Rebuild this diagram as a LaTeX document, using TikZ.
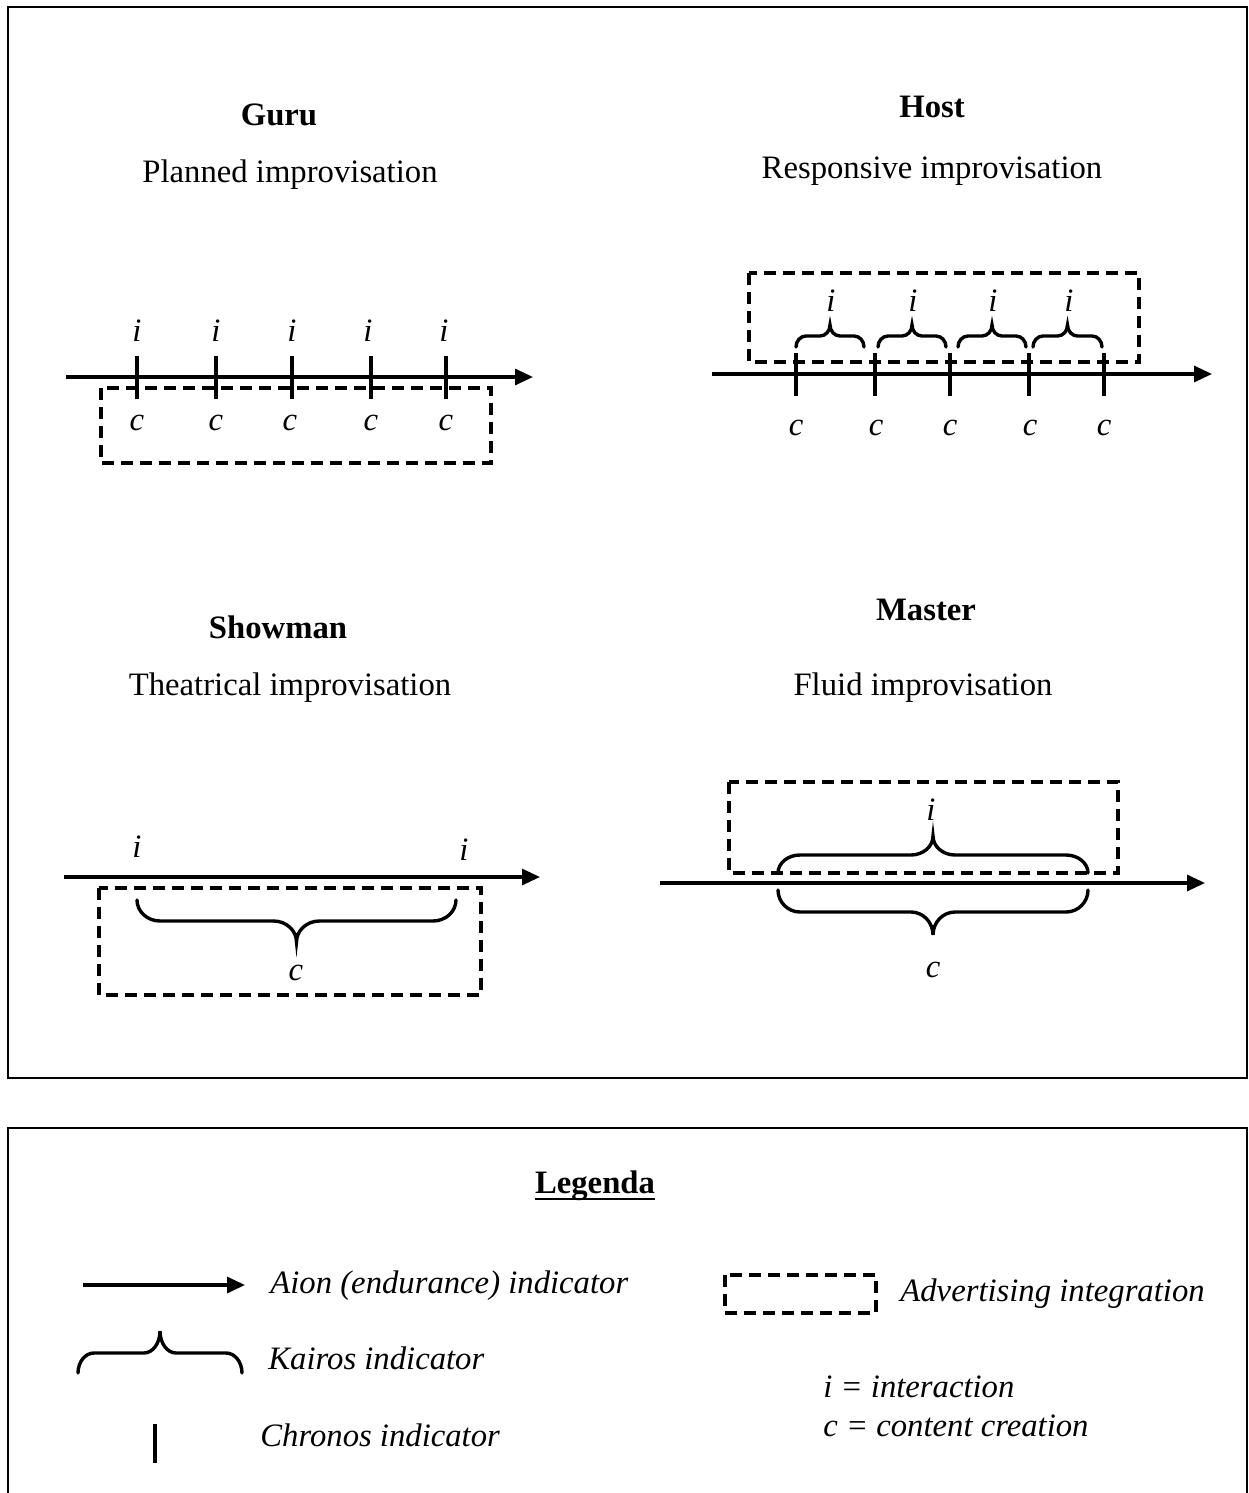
\documentclass[tikz,border=0pt]{standalone}
\usepackage{fontspec}
\setmainfont{Liberation Serif}
\usetikzlibrary{arrows.meta}

% Kairos brace: #1,#2 = left/right ends, #3 = tip y, #4 = bar y, #5 = point y, #6 = bend reach
\newcommand\kairos[6]{%
  \pgfmathsetmacro\kxm{(#1+#2)/2}%
  \draw[brc] (#1,#3) .. controls (#1,{#3+0.552*(#4-#3)}) and ({#1+0.448*#6},#4) .. ({#1+#6},#4)
    -- ({\kxm-#6},#4) .. controls ({\kxm-0.448*#6},#4) and (\kxm,{#4+0.448*(#5-#4)}) .. (\kxm,#5)
    .. controls (\kxm,{#4+0.448*(#5-#4)}) and ({\kxm+0.448*#6},#4) .. ({\kxm+#6},#4)
    -- ({#2-#6},#4) .. controls ({#2-0.448*#6},#4) and (#2,{#3+0.552*(#4-#3)}) .. (#2,#3);}

\begin{document}
\begin{tikzpicture}[x=0.5pt,y=-0.5pt,
  every node/.style={inner sep=0pt,anchor=base,font=\fontsize{16.35}{20}\selectfont},
  ttl/.style={font=\fontsize{16.35}{20}\selectfont\bfseries},
  lbl/.style={font=\fontsize{16.35}{20}\selectfont\itshape},
  leg/.style={anchor=base west,font=\fontsize{16.35}{20}\selectfont\itshape},
  frame/.style={line width=1.2pt},
  axis/.style={line width=1.6pt,-{Triangle[length=9pt,width=8pt]}},
  tickmark/.style={line width=1.6pt},
  brc/.style={line width=1.7pt,line cap=round},
  adv/.style={line width=1.7pt,dash pattern=on 6pt off 3.5pt}]
\useasboundingbox (0,0) rectangle (1248,1493);
\fill[white] (0,0) rectangle (1248,1493);

% frames
\draw[frame] (8,7) rectangle (1247,1078);
\draw[frame] (8,1128) rectangle (1247,1520);

% ---- Guru ----
\node[ttl] (guruT) at (279,126) {Guru};
\node (guruS) at (290,183) {Planned improvisation};
\draw[axis] (66,377) -- (533,377);
\foreach \x in {137,216,292,371,446} \draw[tickmark] (\x,356) -- (\x,399);
\foreach \x [count=\n] in {137,216,292,368,444} \node[lbl] (gi\n) at (\x,341) {i};
\foreach \x [count=\n] in {137,216,290,371,446} \node[lbl] (gc\n) at (\x,430) {c};
\draw[adv] (101,388) rectangle (491,463);

% ---- Host ----
\node[ttl] (hostT) at (932,118) {Host};
\node (hostS) at (932,178) {Responsive improvisation};
\draw[axis] (712,374) -- (1212,374);
\foreach \x in {796,875,950,1029,1104} \draw[tickmark] (\x,353) -- (\x,396);
\foreach \x [count=\n] in {796,876,950,1030,1104} \node[lbl] (hc\n) at (\x,435) {c};
\kairos{796}{864}{347}{336}{325}{10}
\kairos{878}{946}{347}{336}{325}{10}
\kairos{958}{1026}{347}{336}{325}{10}
\kairos{1033}{1102}{347}{336}{325}{10}
\foreach \x [count=\n] in {831,913,993,1069} \node[lbl] (hi\n) at (\x,311) {i};
\draw[adv] (749,273) rectangle (1139,362);

% ---- Showman ----
\node[ttl] (showT) at (278,638) {Showman};
\node (showS) at (290,695) {Theatrical improvisation};
\draw[axis] (64,877) -- (540,877);
\node[lbl] (si1) at (137,857) {i};
\node[lbl] (si2) at (464,860) {i};
\kairos{137}{456}{900}{921}{942}{23}
\node[lbl] (sc) at (296,980) {c};
\draw[adv] (99,888) rectangle (481,995);

% ---- Master ----
\node[ttl] (mastT) at (926,620) {Master};
\node (mastS) at (923,695) {Fluid improvisation};
\draw[adv] (729,782) rectangle (1118,873);
\draw[axis] (660,883) -- (1205,883);
\kairos{778}{1088}{873}{855}{836}{22}
\kairos{778}{1088}{890}{912}{935}{22}
\node[lbl] (mi) at (931,820) {i};
\node[lbl] (mc) at (933,977) {c};

% ---- Legend ----
\node[ttl] (legT) at (595,1193) {Legenda};
\draw[line width=1.1pt] (535,1199) -- (655,1199);

\draw[axis] (83,1285) -- (245,1285);
\node[leg] (aion) at (270,1293) {Aion (endurance) indicator};

\kairos{78}{242}{1373}{1353}{1331}{16}
\node[leg] (kairos) at (268,1369) {Kairos indicator};

\draw[tickmark,line width=1.9pt] (155,1424) -- (155,1463);
\node[leg] (chronos) at (260,1446) {Chronos indicator};

\draw[adv] (725,1275) rectangle (876,1313);
\node[leg] (advint) at (900,1301) {Advertising integration};

\node[leg] (keyi) at (823,1397) {i = interaction};
\node[leg] (keyc) at (823,1436) {c = content creation};
\end{tikzpicture}
\end{document}
